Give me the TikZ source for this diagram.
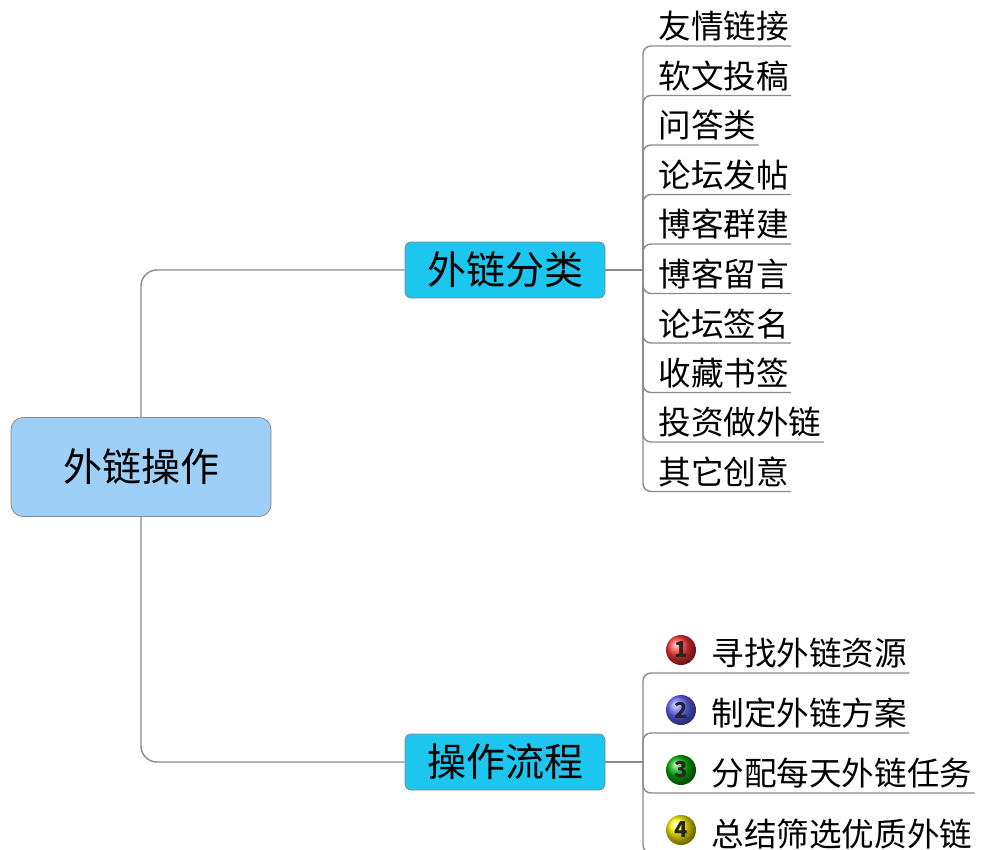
\documentclass[tikz,border=0pt]{standalone}
\usepackage{fontspec}
\setmainfont{Noto Sans CJK SC}
\usetikzlibrary{positioning}
\definecolor{rootfill}{HTML}{9DCFF7}
\definecolor{topicfill}{HTML}{1CC6EE}
\definecolor{linegray}{HTML}{8A8A8A}
\tikzset{
  root/.style={draw=linegray, fill=rootfill, rounded corners=6, minimum width=130, minimum height=49.5, font=\fontsize{19.5}{19.5}\selectfont},
  topic/.style={draw=linegray, fill=topicfill, rounded corners=3, minimum width=100, minimum height=28, font=\fontsize{19.5}{19.5}\selectfont},
  leaf/.style={anchor=south west, inner xsep=1, inner ysep=2, font=\fontsize{16.3}{16.3}\selectfont},
  link/.style={draw=linegray, line width=0.7pt, rounded corners=8},
  ball/.style={circle, minimum size=15, inner sep=0, font=\bfseries\fontsize{11}{11}\selectfont, text=black!85}
}
\begin{document}
\begin{tikzpicture}[x=0.5pt, y=-0.5pt]
  \useasboundingbox[fill=white] (0,0) rectangle (1000,850);

  \node[root]  (root) at (141,467) {外链操作};
  \node[topic] (kind) at (505,270) {外链分类};
  \node[topic] (flow) at (505,762) {操作流程};

  \draw[link] (root.north) |- (kind.west);
  \draw[link] (root.south) |- (flow.west);

  % categories
  \coordinate (kb) at (643,270);
  \draw[link] (kind.east) -- (kb);
  \foreach \t [count=\i] in {友情链接,软文投稿,问答类,论坛发帖,博客群建,博客留言,论坛签名,收藏书签,投资做外链,其它创意} {
    \node[leaf] (k\i) at (656,{46+49.5*(\i-1)}) {\t};
    \draw[link, rounded corners=4] (kb) -- (643,{46+49.5*(\i-1)}) -- (k\i.south east);
  }

  % steps
  \coordinate (fb) at (643,762);
  \draw[link] (flow.east) -- (fb);
  \foreach \t/\c [count=\i] in {寻找外链资源/red!80, 制定外链方案/blue!60, 分配每天外链任务/green!70!black, 总结筛选优质外链/yellow!90!orange} {
    \node[leaf] (s\i) at (709,{673+60*(\i-1)}) {\t};
    \node[ball, ball color=\c] (b\i) at (681,{650+60*(\i-1)}) {\i};
    \draw[link, rounded corners=4] (fb) -- (643,{673+60*(\i-1)}) -- (s\i.south east);
  }
\end{tikzpicture}
\end{document}
